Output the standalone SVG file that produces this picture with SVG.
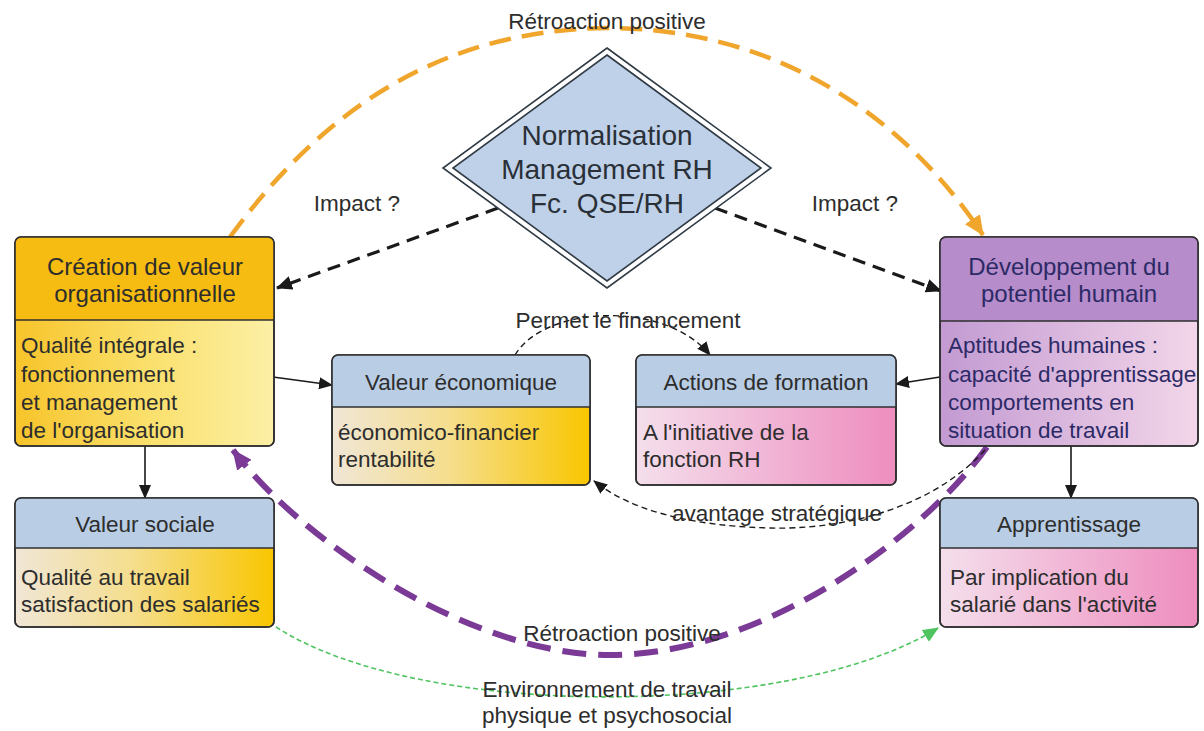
<svg xmlns="http://www.w3.org/2000/svg" width="1204" height="731" viewBox="0 0 1204 731">
<style>
.t{font-family:"Liberation Sans",Arial,sans-serif;font-size:22.5px;fill:#2d2d2d}
.c{text-anchor:middle}
.h{font-size:24px}
.pt{fill:#2c2a66}
.dia{font-size:28px;fill:#2a3038}
.box{stroke:#2f2f2f;stroke-width:1.6}
.div{stroke:#2f2f2f;stroke-width:1.6;fill:none}
.blk{fill:none;stroke:#1a1a1a;stroke-width:1.6}
.bdash{fill:none;stroke:#1a1a1a;stroke-width:3.2;stroke-dasharray:13 8}
.tdash{fill:none;stroke:#1a1a1a;stroke-width:1.4;stroke-dasharray:6 4}
.orng{fill:none;stroke:#F0A52C;stroke-width:4.5;stroke-dasharray:22 11}
.purp{fill:none;stroke:#7A3A96;stroke-width:6;stroke-dasharray:24 12}
.grn{fill:none;stroke:#4FC460;stroke-width:1.6;stroke-dasharray:5 3}
</style>
<defs>
<marker id="ab" markerUnits="userSpaceOnUse" markerWidth="16" markerHeight="14" refX="15" refY="7" orient="auto"><path d="M0,0 L16,7 L0,14 z" fill="#1a1a1a"/></marker>
<marker id="abs" markerUnits="userSpaceOnUse" markerWidth="14" markerHeight="12" refX="13" refY="6" orient="auto"><path d="M0,0 L14,6 L0,12 z" fill="#1a1a1a"/></marker>
<marker id="ao" markerUnits="userSpaceOnUse" markerWidth="20" markerHeight="18" refX="19" refY="9" orient="auto"><path d="M0,0 L20,9 L0,18 z" fill="#F0A52C"/></marker>
<marker id="ap" markerUnits="userSpaceOnUse" markerWidth="20" markerHeight="18" refX="19" refY="9" orient="auto"><path d="M0,0 L20,9 L0,18 z" fill="#7A3A96"/></marker>
<marker id="ag" markerUnits="userSpaceOnUse" markerWidth="16" markerHeight="14" refX="15" refY="7" orient="auto"><path d="M0,0 L16,7 L0,14 z" fill="#4FC460"/></marker>
<linearGradient id="gOrg" x1="0" y1="0" x2="1" y2="0"><stop offset="0" stop-color="#F7C42A"/><stop offset="0.5" stop-color="#FADF6A"/><stop offset="1" stop-color="#FCF0A6"/></linearGradient>
<linearGradient id="gCream" x1="0" y1="0" x2="1" y2="0"><stop offset="0" stop-color="#F0E6D6"/><stop offset="0.45" stop-color="#F5DE8E"/><stop offset="1" stop-color="#F9C600"/></linearGradient>
<linearGradient id="gPink" x1="0" y1="0" x2="1" y2="0"><stop offset="0" stop-color="#F4DFEC"/><stop offset="1" stop-color="#EE8DBF"/></linearGradient>
<linearGradient id="gPurp" x1="0" y1="0" x2="1" y2="0"><stop offset="0" stop-color="#C29AD2"/><stop offset="1" stop-color="#F3D6E9"/></linearGradient>
</defs>
<rect width="1204" height="731" fill="#ffffff"/>

<g id="connectors">
<path class="orng" d="M230 237 C330 100 450 30 607 28 C770 28 900 110 983 235" marker-end="url(#ao)"/>
<path class="purp" d="M987 447 C920 540 760 655 610 655 C470 655 300 540 233 450" marker-end="url(#ap)"/>
<path class="bdash" d="M498 208 L277 288" marker-end="url(#ab)"/>
<path class="bdash" d="M715 208 L941 291" marker-end="url(#ab)"/>
<path class="blk" d="M273 377 L332 385" marker-end="url(#abs)"/>
<path class="blk" d="M940 377 L896 384" marker-end="url(#abs)"/>
<path class="blk" d="M145 446 L145 498" marker-end="url(#abs)"/>
<path class="blk" d="M1071 446 L1071 498" marker-end="url(#abs)"/>
<path class="tdash" d="M515 355 C545 305 665 300 710 355" marker-end="url(#abs)"/>
<path class="tdash" d="M985 450 C930 510 840 530 770 528 C690 526 630 510 594 481" marker-end="url(#abs)"/>
<path class="grn" d="M276 627 C420 720 790 720 938 628" marker-end="url(#ag)"/>
<text class="t c" x="607" y="29">Rétroaction positive</text>
<text class="t c" x="357" y="211">Impact ?</text>
<text class="t c" x="855" y="211">Impact ?</text>
<text class="t c" x="628" y="328">Permet le financement</text>
<text class="t c" x="777" y="521">avantage stratégique</text>
<text class="t c" x="622" y="641">Rétroaction positive</text>
<text class="t c" x="607" y="697">Environnement de travail</text>
<text class="t c" x="607" y="723">physique et psychosocial</text>
</g>

<g id="norme">
<polygon points="607,48 771,168 607,288 443,168" fill="#ffffff" stroke="#2f3a44" stroke-width="1.6"/>
<polygon points="607,55 761,168 607,281 453,168" fill="#BFD1E8" stroke="#2f3a44" stroke-width="1.6"/>
<text class="t c dia" x="607" y="145">Normalisation</text>
<text class="t c dia" x="607" y="179">Management RH</text>
<text class="t c dia" x="607" y="213">Fc. QSE/RH</text>
</g>

<g id="creation">
<rect class="box" x="15" y="237" width="259" height="209" rx="6" fill="url(#gOrg)"/>
<path d="M21 237 H268 A6 6 0 0 1 274 243 V320 H15 V243 A6 6 0 0 1 21 237 Z" fill="#F6BC12"/>
<rect x="15" y="237" width="259" height="209" rx="6" fill="none" stroke="#2f2f2f" stroke-width="1.6"/>
<line class="div" x1="15" y1="320" x2="274" y2="320"/>
<text class="t c h" x="145" y="275">Création de valeur</text>
<text class="t c h" x="145" y="302">organisationnelle</text>
<text class="t" x="21" y="353">Qualité intégrale :</text>
<text class="t" x="21" y="382">fonctionnement</text>
<text class="t" x="21" y="410">et management</text>
<text class="t" x="21" y="438">de l'organisation</text>
</g>

<g id="sociale">
<rect class="box" x="15" y="498" width="259" height="129" rx="6" fill="url(#gCream)"/>
<path d="M21 498 H268 A6 6 0 0 1 274 504 V548 H15 V504 A6 6 0 0 1 21 498 Z" fill="#B9CDE5"/>
<rect x="15" y="498" width="259" height="129" rx="6" fill="none" stroke="#2f2f2f" stroke-width="1.6"/>
<line class="div" x1="15" y1="548" x2="274" y2="548"/>
<text class="t c" x="145" y="532">Valeur sociale</text>
<text class="t" x="21" y="585">Qualité au travail</text>
<text class="t" x="21" y="612">satisfaction des salariés</text>
</g>

<g id="economique">
<rect class="box" x="332" y="355" width="258" height="130" rx="6" fill="url(#gCream)"/>
<path d="M338 355 H584 A6 6 0 0 1 590 361 V407 H332 V361 A6 6 0 0 1 338 355 Z" fill="#B9CDE5"/>
<rect x="332" y="355" width="258" height="130" rx="6" fill="none" stroke="#2f2f2f" stroke-width="1.6"/>
<line class="div" x1="332" y1="407" x2="590" y2="407"/>
<text class="t c" x="461" y="390">Valeur économique</text>
<text class="t" x="338" y="440">économico-financier</text>
<text class="t" x="338" y="467">rentabilité</text>
</g>

<g id="formation">
<rect class="box" x="636" y="355" width="260" height="130" rx="6" fill="url(#gPink)"/>
<path d="M642 355 H890 A6 6 0 0 1 896 361 V407 H636 V361 A6 6 0 0 1 642 355 Z" fill="#B9CDE5"/>
<rect x="636" y="355" width="260" height="130" rx="6" fill="none" stroke="#2f2f2f" stroke-width="1.6"/>
<line class="div" x1="636" y1="407" x2="896" y2="407"/>
<text class="t c" x="766" y="390">Actions de formation</text>
<text class="t" x="643" y="440">A l'initiative de la</text>
<text class="t" x="643" y="467">fonction RH</text>
</g>

<g id="developpement">
<rect class="box" x="940" y="237" width="258" height="209" rx="6" fill="url(#gPurp)"/>
<path d="M946 237 H1192 A6 6 0 0 1 1198 243 V321 H940 V243 A6 6 0 0 1 946 237 Z" fill="#B68CCB"/>
<rect x="940" y="237" width="258" height="209" rx="6" fill="none" stroke="#2f2f2f" stroke-width="1.6"/>
<line class="div" x1="940" y1="321" x2="1198" y2="321"/>
<text class="t c h pt" x="1069" y="275">Développement du</text>
<text class="t c h pt" x="1069" y="302">potentiel humain</text>
<text class="t pt" x="948" y="353">Aptitudes humaines :</text>
<text class="t pt" x="948" y="382">capacité d'apprentissage</text>
<text class="t pt" x="948" y="410">comportements en</text>
<text class="t pt" x="948" y="438">situation de travail</text>
</g>

<g id="apprentissage">
<rect class="box" x="940" y="498" width="258" height="129" rx="6" fill="url(#gPink)"/>
<path d="M946 498 H1192 A6 6 0 0 1 1198 504 V548 H940 V504 A6 6 0 0 1 946 498 Z" fill="#B9CDE5"/>
<rect x="940" y="498" width="258" height="129" rx="6" fill="none" stroke="#2f2f2f" stroke-width="1.6"/>
<line class="div" x1="940" y1="548" x2="1198" y2="548"/>
<text class="t c" x="1069" y="532">Apprentissage</text>
<text class="t" x="950" y="585">Par implication du</text>
<text class="t" x="950" y="612">salarié dans l'activité</text>
</g>
</svg>
